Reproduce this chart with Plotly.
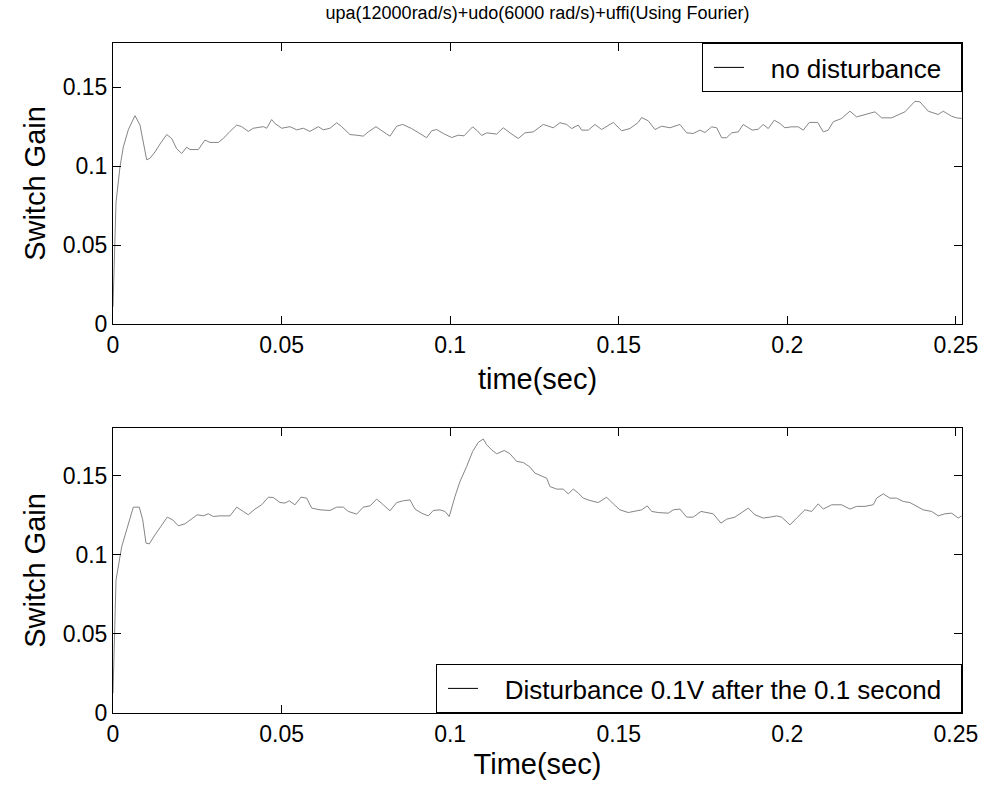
import numpy as np
import plotly.graph_objects as go

# ---------------- data (time in ms, switch gain) ----------------
t_top_ms = [
    0, 0.89, 2.08, 3.05, 4.54, 6.52, 8.01, 8.99, 9.99, 10.97,
    12.46, 13.94, 15.93, 17.41, 18.89, 20.37, 21.86, 22.84, 25.30, 27.28,
    28.77, 31.23, 32.71, 34.70, 36.68, 38.17, 40.12, 41.61, 44.57, 45.58,
    47.06, 48.04, 50.03, 52.49, 54.48, 56.44, 58.42, 60.88, 62.37, 64.35,
    66.34, 67.82, 70.28, 72.27, 74.23, 75.71, 78.00, 81.17,
    82.15, 84.13, 85.91, 88.58, 91.04, 93.03, 94.51, 96.00, 97.95, 100.44,
    102.40, 104.09, 106.67, 108.04, 109.34, 110.82, 113.79, 115.75, 117.73, 120.20,
    122.18, 124.64, 127.61, 130.57, 132.56, 134.55, 136.03, 138.00, 139.00, 140.96,
    142.94, 144.93, 148.37, 150.86, 153.32, 155.78, 156.79, 158.75, 160.74, 162.72,
    165.18,
    166.67, 168.15, 170.14, 172.09, 174.08, 175.56, 177.55, 179.03, 180.52, 182.00,
    183.49, 185.44, 186.92, 189.59, 191.37, 192.85, 194.34, 196.11, 197.80, 199.29,
    201.27, 203.23, 204.72, 206.50, 208.99, 210.65, 212.13, 213.61, 216.10, 218.56,
    220.55, 223.01, 225.98, 227.96, 230.93, 234.88, 237.84, 239.32, 241.79, 244.75,
    246.23, 248.72, 250.21, 251.69,
]
gain_top = [
    0.011, 0.077, 0.0996, 0.112, 0.123, 0.132, 0.126, 0.114, 0.104, 0.105,
    0.109, 0.114, 0.120, 0.1175, 0.111, 0.108, 0.112, 0.1105, 0.1105, 0.1165,
    0.115, 0.115, 0.1175, 0.122, 0.126, 0.125, 0.122, 0.124, 0.125, 0.124,
    0.1295, 0.127, 0.124, 0.125, 0.123, 0.124, 0.122, 0.125, 0.123, 0.124,
    0.1275, 0.125, 0.120, 0.1196, 0.119, 0.1217, 0.125, 0.1203,
    0.119, 0.1253, 0.1264, 0.1238, 0.1207, 0.118, 0.1224, 0.1232, 0.1207, 0.1181,
    0.1196, 0.1192, 0.1249, 0.1224, 0.1194, 0.1211, 0.1203, 0.1243, 0.1211, 0.1175,
    0.1211, 0.1217, 0.1264, 0.1243, 0.1275, 0.1264, 0.1238, 0.126, 0.1228, 0.1228,
    0.1264, 0.1232, 0.1277, 0.1224, 0.1238, 0.1277, 0.1308, 0.1287, 0.1232, 0.1253,
    0.1243,
    0.1253, 0.1264, 0.1211, 0.1207, 0.1228, 0.1213, 0.1249, 0.1243, 0.118, 0.118,
    0.1211, 0.1217, 0.1264, 0.1228, 0.1234, 0.1264, 0.1238, 0.1291, 0.127, 0.1243,
    0.1249, 0.1249, 0.1228, 0.1277, 0.1277, 0.1217, 0.1228, 0.1281, 0.1302, 0.1348,
    0.1312, 0.1327, 0.1344, 0.1306, 0.1306, 0.1344, 0.1411, 0.1407, 0.1348, 0.1327,
    0.1348, 0.1316, 0.1306, 0.1302,
]

t_bot_ms = [
    0, 0.89, 2.58, 3.56, 4.83, 6.02, 7.80, 8.81, 9.79, 10.77,
    12.46, 14.44, 16.10, 17.70, 19.37, 21.35, 23.34, 25.00, 26.78, 28.26,
    29.74, 31.73, 34.70, 36.68, 38.64, 40.12, 42.11, 44.10, 46.06, 47.54,
    49.53, 51.01, 52.28, 53.97, 55.75, 57.44, 58.93, 61.39, 64.35, 66.34,
    68.30, 69.78, 72.27, 74.23, 76.22, 78.20, 80.16, 81.64,
    82.15, 84.13, 86.09, 88.08, 89.56, 91.55, 93.51, 94.99, 96.98, 98.46,
    99.73, 101.42, 102.91, 104.89, 106.67, 108.33, 109.82, 110.82, 112.31, 113.79,
    116.04, 117.73, 119.72, 121.68, 123.67, 125.15, 127.14, 128.62, 129.60, 131.58,
    133.54, 135.02, 136.51, 137.99, 139.47, 141.46, 143.92, 146.41, 148.37, 150.36,
    152.82, 155.31, 156.79, 158.45, 159.76, 161.71, 164.68, 166.16,
    168.15, 170.14, 172.09, 174.38, 176.54, 178.02, 180.31, 182.00, 184.46, 186.45,
    188.41, 190.39, 192.85, 194.84, 196.83, 198.31, 200.77, 202.76, 205.22, 207.21,
    209.16, 210.65, 213.14, 216.10, 218.56, 220.55, 223.01, 225.47, 226.48, 228.44,
    230.43, 232.41, 234.37, 236.36, 238.35, 240.30, 242.79, 244.75, 246.74, 248.72,
    250.68, 251.70,
]
gain_bot = [
    0.0125, 0.084, 0.105, 0.1125, 0.122, 0.130, 0.130, 0.122, 0.1073, 0.1068,
    0.1125, 0.1188, 0.1237, 0.122, 0.1182, 0.1195, 0.1224, 0.1252, 0.1245, 0.1258,
    0.1241, 0.1245, 0.1245, 0.130, 0.1273, 0.1252, 0.1288, 0.1315, 0.1363, 0.1361,
    0.1329, 0.1326, 0.134, 0.1315, 0.1363, 0.1357, 0.1294, 0.1283, 0.1279, 0.130,
    0.130, 0.1273, 0.1256, 0.130, 0.1308, 0.1351, 0.1315, 0.1288,
    0.1277, 0.1329, 0.134, 0.1346, 0.1288, 0.1262, 0.1245, 0.1279, 0.1283, 0.1273,
    0.1241, 0.1367, 0.1462, 0.1557, 0.1652, 0.1709, 0.173, 0.1694, 0.1662, 0.1637,
    0.1658, 0.1637, 0.1589, 0.1582, 0.1553, 0.1515, 0.1494, 0.1483, 0.143, 0.1414,
    0.1414, 0.1384, 0.1414, 0.1389, 0.1357, 0.1342, 0.1329, 0.1363, 0.1321, 0.1283,
    0.1266, 0.1279, 0.1283, 0.1308, 0.1273, 0.1266, 0.1262, 0.1283,
    0.1288, 0.1237, 0.1237, 0.1273, 0.1262, 0.1258, 0.1199, 0.1224, 0.1237, 0.1266,
    0.1294, 0.1252, 0.1231, 0.1237, 0.1245, 0.1237, 0.1188, 0.1231, 0.1283, 0.1273,
    0.1321, 0.1288, 0.1315, 0.1315, 0.1288, 0.1305, 0.1305, 0.1315, 0.1357, 0.1384,
    0.1357, 0.1357, 0.1336, 0.1329, 0.1308, 0.1283, 0.1273, 0.1245, 0.1258, 0.1262,
    0.1231, 0.1245,
]

x_tick_vals = [0, 0.05, 0.1, 0.15, 0.2, 0.25]
x_tick_text = ["0", "0.05", "0.1", "0.15", "0.2", "0.25"]
y_tick_vals = [0, 0.05, 0.1, 0.15]
y_tick_text = ["0", "0.05", "0.1", "0.15"]

title_text = "upa(12000rad/s)+udo(6000 rad/s)+uffi(Using Fourier)"
legend_top = "no disturbance"
legend_bot = "Disturbance 0.1V after the 0.1 second"

# ---------------- figure ----------------
FONT = "Arial, Liberation Sans, sans-serif"
curve_color = "#858585"
LEAD = "\u00a0\u00a0\u00a0"
TRAIL = "\u00a0\u00a0"

fig = go.Figure()
fig.add_trace(go.Scatter(x=np.array(t_top_ms) / 1000.0, y=gain_top, mode="lines",
                         line=dict(color=curve_color, width=1), showlegend=False,
                         xaxis="x", yaxis="y"))
fig.add_trace(go.Scatter(x=[None], y=[None], mode="lines", name=LEAD + legend_top + TRAIL,
                         line=dict(color="black", width=1), legend="legend",
                         xaxis="x", yaxis="y"))
fig.add_trace(go.Scatter(x=np.array(t_bot_ms) / 1000.0, y=gain_bot, mode="lines",
                         line=dict(color=curve_color, width=1), showlegend=False,
                         xaxis="x2", yaxis="y2"))
fig.add_trace(go.Scatter(x=[None], y=[None], mode="lines", name=LEAD + legend_bot + TRAIL,
                         line=dict(color="black", width=1), legend="legend2",
                         xaxis="x2", yaxis="y2"))

axis_common = dict(showline=True, linecolor="black", linewidth=1, mirror="allticks",
                   ticks="inside", ticklen=8, tickwidth=1, tickcolor="black",
                   showgrid=False, zeroline=False, automargin=False,
                   ticklabeloverflow="allow",
                   tickfont=dict(family=FONT, size=23, color="black"))
title_font = dict(family=FONT, size=29, color="black")

W, H = 985, 785

fig.update_layout(
    width=W, height=H,
    margin=dict(l=113, r=23, t=43, b=72, autoexpand=False),
    paper_bgcolor="white", plot_bgcolor="white",
    font=dict(family=FONT, color="black"),
    title=dict(text=title_text, x=0.5, xref="paper", y=1 - 13 / H, yref="container",
               xanchor="center", yanchor="middle",
               font=dict(family=FONT, size=18, color="black")),
    xaxis=dict(axis_common, domain=[0, 1], range=[0, 0.2518], anchor="y",
               tickvals=x_tick_vals, ticktext=x_tick_text,
               title=dict(text="time(sec)", font=title_font, standoff=12)),
    yaxis=dict(axis_common, domain=[0.5806, 1], range=[0, 0.178], anchor="x",
               tickvals=y_tick_vals, ticktext=y_tick_text,
               title=dict(text="Switch Gain", font=title_font, standoff=8)),
    xaxis2=dict(axis_common, domain=[0, 1], range=[0, 0.2518], anchor="y2",
                tickvals=x_tick_vals, ticktext=x_tick_text,
                title=dict(text="Time(sec)", font=title_font, standoff=8)),
    yaxis2=dict(axis_common, domain=[0, 0.4254], range=[0, 0.18], anchor="x2",
                tickvals=y_tick_vals, ticktext=y_tick_text,
                title=dict(text="Switch Gain", font=title_font, standoff=8)),
    legend=dict(x=1, y=1, xanchor="right", yanchor="top", xref="paper", yref="paper",
                bgcolor="white", bordercolor="black", borderwidth=1, indentation=6,
                font=dict(family=FONT, size=26, color="black")),
    legend2=dict(x=1, y=0, xanchor="right", yanchor="bottom", xref="paper", yref="paper",
                 bgcolor="white", bordercolor="black", borderwidth=1, indentation=6,
                 font=dict(family=FONT, size=26, color="black")),
)

# remove the default 8px page margin so the figure fills the window exactly
fig.write_html("out.html", config={"displayModeBar": False},
               post_script="document.body.style.margin='0';document.body.style.overflow='hidden';")
